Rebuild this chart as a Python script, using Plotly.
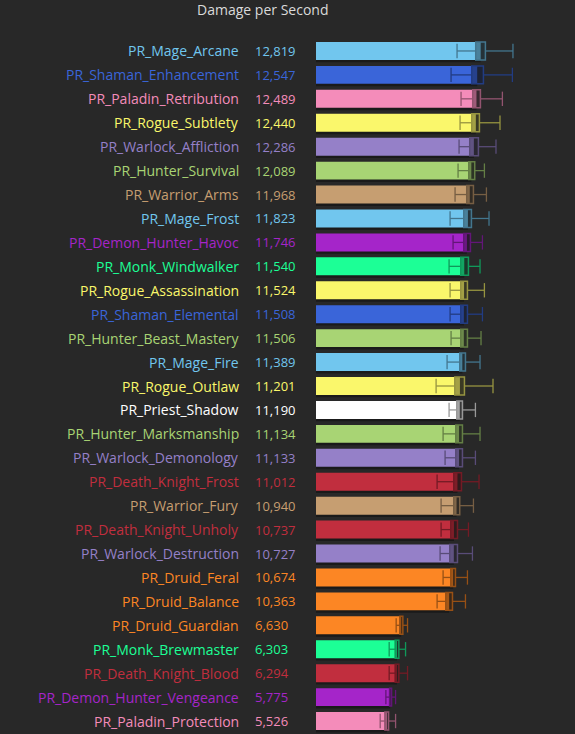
import plotly.graph_objects as go

names = ["PR_Mage_Arcane", "PR_Shaman_Enhancement", "PR_Paladin_Retribution", "PR_Rogue_Subtlety",
         "PR_Warlock_Affliction", "PR_Hunter_Survival", "PR_Warrior_Arms", "PR_Mage_Frost",
         "PR_Demon_Hunter_Havoc", "PR_Monk_Windwalker", "PR_Rogue_Assassination", "PR_Shaman_Elemental",
         "PR_Hunter_Beast_Mastery", "PR_Mage_Fire", "PR_Rogue_Outlaw", "PR_Priest_Shadow",
         "PR_Hunter_Marksmanship", "PR_Warlock_Demonology", "PR_Death_Knight_Frost", "PR_Warrior_Fury",
         "PR_Death_Knight_Unholy", "PR_Warlock_Destruction", "PR_Druid_Feral", "PR_Druid_Balance",
         "PR_Druid_Guardian", "PR_Monk_Brewmaster", "PR_Death_Knight_Blood", "PR_Demon_Hunter_Vengeance",
         "PR_Paladin_Protection"]
dps = [12819, 12547, 12489, 12440, 12286, 12089, 11968, 11823, 11746, 11540, 11524, 11508, 11506,
       11389, 11201, 11190, 11134, 11133, 11012, 10940, 10737, 10727, 10674, 10363, 6630, 6303, 6294,
       5775, 5526]
box_low = [12430, 12120, 12197, 12120, 11964, 11887, 11731, 11498, 11498, 11265, 11265, 11265, 11265,
           11187, 10799, 10954, 10877, 10877, 10721, 10721, 10488, 10410, 10488, 10100, 6526, 6161, 6161,
           5726, 5361]
box_high = [13184, 13029, 12795, 12718, 12640, 12353, 12252, 12096, 12019, 11863, 11785, 11785, 11785,
            11630, 11552, 11397, 11397, 11397, 11319, 11187, 11009, 11009, 10853, 10620, 6759, 6448, 6448,
            5881, 5648]
whisker_low = [10977, 10511, 11288, 11211, 11133, 11055, 10822, 10434, 10667, 10356, 10434, 10434, 10511,
               10201, 9346, 10356, 9890, 10045, 9424, 9735, 9735, 9657, 9890, 9424, 6239, 5695, 5695,
               5438, 4995]
whisker_high = [15328, 15282, 14505, 14318, 14007, 13106, 13262, 13464, 12951, 12764, 13106, 12951, 12842,
                12764, 13774, 12407, 12764, 12407, 12687, 12252, 11863, 12174, 11785, 11630, 7124, 6969, 7124,
                6192, 6192]

class_colors = {
    "Mage": "#71C6EE", "Shaman": "#3A65D9", "Paladin": "#F48CBA", "Rogue": "#FAF76B",
    "Warlock": "#9580C8", "Hunter": "#A8D474", "Warrior": "#C69E71", "Demon": "#A525C9",
    "Monk": "#1CFF96", "Priest": "#FFFFFF", "Death": "#C12E3E", "Druid": "#FC8624",
}
colors = [class_colors[n.split("_")[1]] for n in names]


def hex_rgb(h):
    h = h.lstrip("#")
    return tuple(int(h[i:i + 2], 16) for i in (0, 2, 4))


def dark(h, f=0.6):
    r, g, b = hex_rgb(h)
    return f"rgb({int(r * f)},{int(g * f)},{int(b * f)})"


def dark_fill(h):
    r, g, b = hex_rgb(h)
    return f"rgba({int(r * 0.3)},{int(g * 0.3)},{int(b * 0.3)},0.5)"


ypos = list(range(len(names)))
BG = "#282828"
W = 0.75

fig = go.Figure()
# shadow
fig.add_trace(go.Bar(y=ypos, x=dps, orientation="h", width=W, offset=-W / 2 + 0.1,
                     marker=dict(color="rgba(0,0,0,0.35)", line=dict(width=0)), hoverinfo="skip"))
# main bars
fig.add_trace(go.Bar(y=ypos, x=dps, orientation="h", width=W,
                     marker=dict(color=colors, line=dict(width=0)), hoverinfo="skip"))
# boxes
fig.add_trace(go.Bar(y=ypos, x=[h - l for l, h in zip(box_low, box_high)], base=box_low,
                     orientation="h", width=W,
                     marker=dict(color=[dark_fill(c) for c in colors],
                                 line=dict(color=[dark(c) for c in colors], width=1.5)),
                     hoverinfo="skip"))
# whiskers
cap = 0.3
for i in range(len(names)):
    xs = [whisker_low[i], box_low[i], None, box_high[i], whisker_high[i], None,
          whisker_low[i], whisker_low[i], None, whisker_high[i], whisker_high[i]]
    ys = [i, i, None, i, i, None, i - cap, i + cap, None, i - cap, i + cap]
    fig.add_trace(go.Scatter(x=xs, y=ys, mode="lines", line=dict(color=dark(colors[i]), width=1.3),
                             hoverinfo="skip"))

for i, n in enumerate(names):
    fig.add_annotation(x=0, y=i, xref="x", yref="y", text=n, showarrow=False, xanchor="right",
                       yanchor="middle", xshift=-75, font=dict(family="Open Sans", size=14, color=colors[i]))
    fig.add_annotation(x=0, y=i, xref="x", yref="y", text=f"{dps[i]:,}", showarrow=False, xanchor="left",
                       yanchor="middle", xshift=-63, font=dict(family="Open Sans", size=13, color=colors[i]))

fig.update_layout(
    width=575, height=734,
    margin=dict(l=316, r=2, t=39, b=1),
    paper_bgcolor=BG, plot_bgcolor=BG,
    barmode="overlay", showlegend=False,
    title=dict(text="Damage per Second", x=262.8 / 575, xanchor="center", xref="container",
               y=1 - 10 / 734, yanchor="middle", yref="container",
               font=dict(family="Open Sans", size=14, color="#DADADA")),
    xaxis=dict(range=[0, 20000], visible=False),
    yaxis=dict(range=[len(names) - 0.5, -0.5], visible=False),
    hovermode=False,
)
fig.write_html("out.html")
